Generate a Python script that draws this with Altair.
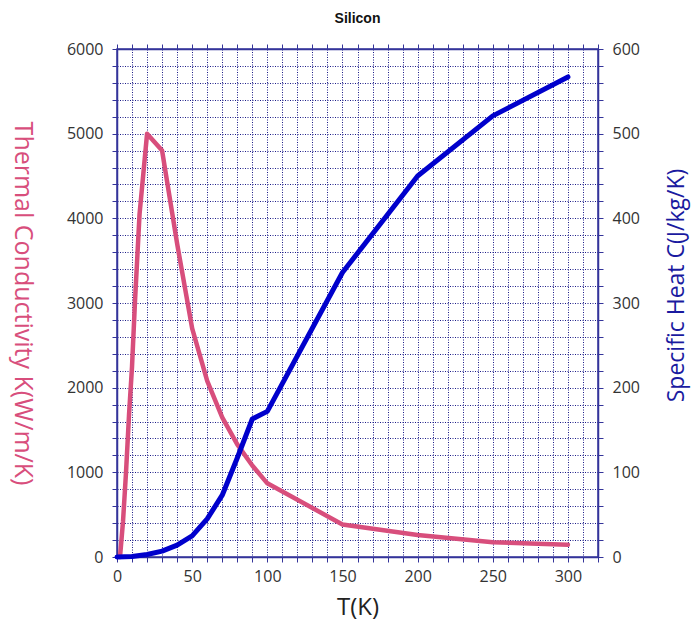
import altair as alt
import pandas as pd

# Thermal conductivity of silicon (pink, left axis)
t_k = [2, 4, 6, 8, 10, 12, 15, 20, 30, 40, 50, 60, 70, 80, 90, 100, 150, 200, 250, 300]
k_vals = [0, 420, 1000, 1680, 2250, 3030, 4050, 5000, 4800, 3700, 2700, 2080, 1650, 1330, 1080, 870, 385, 260, 175, 145]

# Specific heat of silicon (blue, right axis)
t_c = [0, 10, 20, 30, 40, 50, 60, 70, 80, 90, 100, 150, 200, 250, 300]
c_vals = [0, 0.5, 3, 7, 14, 25, 45, 73, 117, 163, 172, 336, 450, 521, 567]

x_ticks = list(range(0, 321, 10))
k_ticks = list(range(0, 6001, 200))
c_ticks = list(range(0, 601, 20))

df_k = pd.DataFrame({"T": t_k, "K": k_vals})
df_c = pd.DataFrame({"T": t_c, "C": c_vals})

PINK = "#d84e7c"
BLUE = "#0000cc"
FRAME = "#34349a"
GRID = "#1c1c88"
FONT = "Open Sans"

xscale = alt.Scale(domain=[0, 320], nice=False, zero=False)

pink = alt.Chart(df_k).mark_line(color=PINK, strokeWidth=4.5, strokeJoin="round", strokeCap="round").encode(
    x=alt.X("T:Q", scale=xscale, axis=alt.Axis(
        orient="bottom", values=x_ticks, format="d",
        labelExpr="datum.value % 50 == 0 ? datum.label : ''",
        labelOverlap=False, labelFlush=False,
        grid=True, gridDash=[1, 1.5], gridColor=GRID, gridWidth=1, gridOpacity=1,
        tickSize=5, tickColor=FRAME, domainColor=FRAME, domainWidth=1.5,
        labelPadding=6, labelFont=FONT, labelFontSize=16, labelColor="#333333",
        title="T(K)", titleFont=FONT, titleFontSize=24, titleFontWeight="normal",
        titleColor="#222222", titleX=240.5, titleY=50, titleAlign="center", titleBaseline="middle",
    )),
    y=alt.Y("K:Q", scale=alt.Scale(domain=[0, 6000], nice=False), axis=alt.Axis(
        orient="left", values=k_ticks, format="d",
        labelExpr="datum.value % 1000 == 0 ? datum.label : ''",
        labelOverlap=False, labelFlush=False,
        grid=True, gridDash=[1, 1.5], gridColor=GRID, gridWidth=1, gridOpacity=1,
        tickSize=5, tickColor=FRAME, domainColor=FRAME, domainWidth=1.5,
        labelPadding=9, labelFont=FONT, labelFontSize=16, labelColor="#333333",
        title="Thermal Conductivity K(W/m/K)", titleFont=FONT, titleFontSize=25,
        titleFontWeight="normal", titleColor=PINK, titleAngle=90,
        titleX=-95, titleY=254, titleAlign="center", titleBaseline="middle",
    )),
)

blue = alt.Chart(df_c).mark_line(color=BLUE, strokeWidth=5, strokeJoin="round", strokeCap="round").encode(
    x=alt.X("T:Q", scale=xscale, axis=alt.Axis(
        orient="top", values=x_ticks, labels=False, grid=False, title=None,
        tickSize=5, tickColor=FRAME, domainColor=FRAME, domainWidth=1.5,
    )),
    y=alt.Y("C:Q", scale=alt.Scale(domain=[0, 600], nice=False), axis=alt.Axis(
        orient="right", values=c_ticks, format="d",
        labelExpr="datum.value % 100 == 0 ? datum.label : ''",
        labelOverlap=False, labelFlush=False, grid=False,
        tickSize=5, tickColor=FRAME, domainColor=FRAME, domainWidth=1.5,
        labelPadding=9, labelFont=FONT, labelFontSize=16, labelColor="#333333",
        title="Specific Heat C(J/kg/K)", titleFont=FONT, titleFontSize=23,
        titleFontWeight="normal", titleColor="#1a1aa0", titleAngle=270,
        titleX=78, titleY=236, titleAlign="center", titleBaseline="middle",
    )),
)

chart = alt.layer(pink, blue).resolve_scale(y="independent").resolve_axis(
    x="independent", y="independent"
).properties(
    width=481,
    height=508,
    title=alt.TitleParams("Silicon", font="Liberation Sans", fontSize=14, fontWeight="bold",
                          color="#111111", anchor="middle", offset=15),
    autosize=alt.AutoSizeParams(type="none"),
    padding={"left": 117, "top": 49, "right": 94, "bottom": 66},
    background="white",
).configure_view(stroke=FRAME, strokeWidth=1.5)

chart.save("out.html", embed_options={"renderer": "svg", "actions": False})
